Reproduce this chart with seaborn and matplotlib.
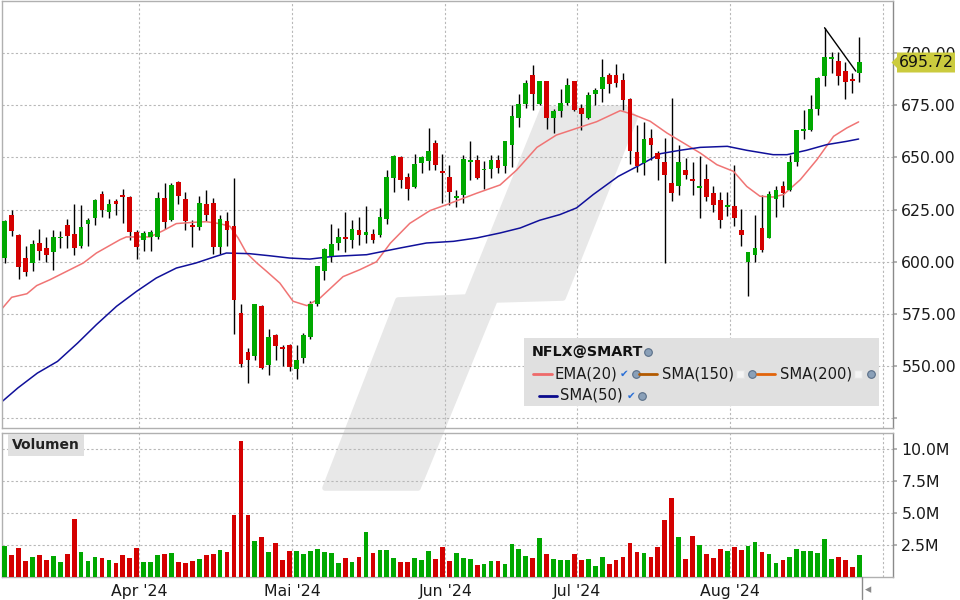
import matplotlib
matplotlib.use("Agg")
import matplotlib.pyplot as plt
import seaborn as sns
from matplotlib.patches import Polygon, Rectangle
from matplotlib.lines import Line2D

# NFLX daily candles, 1 Mar 2024 .. 27 Aug 2024
opens = [601.7, 622.6, 613.0, 602.0, 599.3, 609.2, 606.4, 604.5, 611.2, 617.8,
         613.5, 607.4, 618.3, 620.8, 632.6, 623.7, 629.0, 632.2, 630.9, 614.4,
         610.3, 611.7, 611.7, 630.7, 620.2, 638.4, 630.2, 617.5, 616.5, 627.8,
         628.3, 606.9, 619.4, 617.3, 575.3, 556.6, 555.0, 579.0, 550.7, 565.1,
         559.4, 560.3, 548.7, 553.9, 563.8, 579.6, 595.4, 602.6, 609.0, 612.0,
         610.3, 615.4, 613.0, 613.5, 612.7, 620.7, 640.3, 650.4, 640.8, 636.0,
         647.2, 648.4, 657.1, 643.6, 640.8, 630.4, 631.8, 648.0, 648.9, 643.8,
         644.6, 648.9, 646.0, 656.1, 669.0, 675.7, 689.6, 675.7, 686.7, 669.0,
         672.4, 676.2, 686.7, 673.8, 669.0, 680.5, 682.9, 689.6, 689.6, 687.2,
         678.0, 652.7, 647.5, 659.5, 652.3, 648.0, 637.9, 636.1, 644.1, 639.8,
         635.2, 639.8, 633.1, 629.8, 626.4, 626.9, 615.4, 600.1, 603.4, 616.3,
         611.6, 630.2, 636.5, 634.5, 648.0, 662.8, 663.3, 673.3, 689.1, 697.3,
         696.3, 691.5, 687.7, 690.6]
highs = [620.2, 624.6, 613.5, 607.7, 610.6, 615.9, 612.1, 615.4, 614.9, 620.7,
         627.8, 627.4, 621.1, 630.2, 634.1, 630.1, 630.2, 634.7, 631.5, 615.4,
         614.9, 615.4, 633.4, 637.9, 637.9, 638.9, 633.3, 620.2, 631.7, 634.5,
         630.7, 622.6, 624.0, 640.1, 579.6, 558.9, 579.9, 579.3, 567.8, 565.4,
         560.3, 560.6, 560.3, 565.9, 581.1, 598.1, 606.6, 618.3, 616.0, 624.0,
         620.2, 621.5, 626.9, 615.7, 625.9, 644.0, 651.0, 650.6, 642.7, 651.8,
         650.6, 664.2, 658.5, 651.5, 646.5, 634.5, 651.3, 658.0, 651.3, 648.4,
         651.3, 651.3, 658.0, 675.3, 680.5, 687.2, 694.4, 686.7, 686.7, 673.3,
         682.9, 688.2, 686.7, 675.7, 681.5, 683.4, 697.3, 690.6, 694.9, 690.6,
         678.3, 665.7, 667.1, 663.8, 653.2, 659.5, 678.6, 656.1, 649.9, 648.0,
         650.5, 647.0, 636.5, 633.6, 633.6, 646.5, 625.4, 604.9, 622.6, 632.2,
         634.1, 636.5, 638.9, 651.3, 663.3, 672.9, 680.0, 688.7, 712.1, 700.6,
         700.6, 695.8, 690.6, 707.8]
lows = [599.4, 612.5, 591.8, 593.0, 595.4, 600.7, 600.1, 595.9, 606.8, 606.8,
        603.4, 606.5, 607.7, 617.8, 621.6, 620.8, 622.6, 618.7, 610.6, 601.3,
        605.0, 605.0, 611.1, 615.7, 619.4, 627.5, 615.1, 606.9, 615.1, 619.5,
        603.6, 603.6, 607.4, 565.3, 549.8, 541.9, 553.1, 548.5, 545.6, 552.8,
        550.1, 547.9, 544.0, 551.5, 563.0, 579.0, 591.4, 599.7, 605.5, 604.7,
        606.6, 607.9, 609.0, 609.2, 611.9, 618.3, 633.6, 635.5, 629.4, 635.5,
        642.7, 644.1, 644.1, 628.2, 627.0, 626.4, 628.0, 639.2, 639.8, 635.0,
        640.3, 642.7, 642.7, 645.6, 664.7, 673.8, 672.9, 675.3, 663.8, 661.8,
        669.5, 675.3, 672.4, 663.3, 668.5, 675.3, 676.7, 681.0, 683.9, 672.9,
        647.0, 643.2, 641.7, 648.9, 639.3, 599.6, 629.0, 632.2, 639.8, 632.2,
        621.1, 629.3, 623.7, 616.3, 622.1, 617.0, 607.7, 583.5, 600.1, 604.9,
        611.4, 621.6, 626.4, 634.0, 646.0, 659.0, 662.8, 670.5, 684.4, 690.6,
        684.8, 678.1, 681.0, 686.3]
closes = [619.4, 614.6, 597.3, 595.0, 608.7, 605.0, 603.1, 612.0, 612.0, 612.2,
          606.4, 616.8, 619.9, 629.8, 624.6, 627.8, 627.8, 631.2, 614.1, 606.9,
          614.0, 614.3, 630.7, 618.9, 636.9, 631.4, 619.7, 616.5, 628.3, 622.3,
          606.9, 620.7, 615.1, 581.5, 551.2, 552.8, 579.6, 549.0, 564.0, 559.5,
          558.4, 549.5, 553.1, 565.1, 579.9, 597.8, 606.0, 608.7, 612.0, 610.9,
          615.9, 613.0, 614.4, 610.3, 621.6, 640.8, 650.8, 639.0, 635.0, 647.0,
          650.4, 653.2, 646.2, 642.4, 633.6, 631.7, 649.4, 648.8, 640.3, 644.6,
          648.9, 645.1, 658.0, 670.0, 675.7, 685.8, 680.5, 686.7, 669.0, 672.4,
          676.2, 684.8, 672.9, 670.9, 680.0, 682.4, 688.7, 685.3, 685.8, 677.6,
          653.2, 646.0, 659.0, 656.1, 649.4, 641.7, 633.1, 648.0, 641.7, 638.5,
          636.5, 631.2, 627.0, 620.2, 627.4, 621.1, 613.0, 604.9, 606.4, 605.8,
          632.6, 634.5, 633.1, 648.0, 663.3, 663.8, 673.3, 688.2, 698.2, 698.2,
          689.1, 686.3, 686.7, 695.72]
volumes = [2.45, 1.72, 2.27, 1.25, 1.56, 1.72, 1.33, 1.64, 1.17, 1.80,
           4.53, 1.95, 1.25, 1.56, 1.48, 1.33, 1.09, 1.72, 1.48, 2.27,
           1.17, 1.17, 1.72, 1.80, 1.88, 1.17, 1.09, 1.25, 1.41, 1.72,
           1.80, 2.11, 1.95, 4.84, 10.6, 4.84, 2.81, 3.13, 1.95, 2.66,
           1.33, 2.03, 2.03, 1.80, 2.03, 2.19, 1.95, 1.88, 1.09, 1.48,
           1.17, 1.56, 3.52, 1.88, 2.11, 2.11, 1.48, 1.17, 1.17, 1.48,
           1.33, 2.03, 1.41, 2.34, 1.25, 1.88, 1.48, 1.41, 0.94, 1.02,
           1.25, 1.25, 1.02, 2.58, 2.19, 1.64, 1.48, 3.05, 1.80, 1.41,
           1.33, 1.33, 1.80, 1.33, 1.41, 0.86, 1.56, 1.02, 1.33, 1.56,
           2.66, 1.95, 1.88, 1.56, 2.34, 4.45, 6.17, 3.13, 1.41, 3.20,
           2.50, 1.80, 1.48, 2.19, 2.03, 2.34, 2.11, 2.42, 2.73, 1.95,
           1.80, 1.09, 1.33, 1.56, 2.19, 2.03, 2.03, 1.88, 2.97, 1.41,
           1.56, 1.33, 0.78, 1.72]

# indicator lines, sampled from the chart (candle index, value)
ema_pos = [-0.4, 1.0, 3.2, 4.6, 6.5, 8.9, 11.3, 13.2, 16.6, 17.5, 20.9, 22.8,
           24.7, 27.1, 29.0, 30.9, 32.4, 33.6, 34.8, 36.3, 37.7, 39.6, 41.5,
           43.5, 45.4, 48.7, 51.1, 53.5, 55.5, 58.3, 61.2, 64.1, 67.9, 71.3,
           73.7, 76.6, 79.4, 82.3, 85.2, 88.6, 90.5, 92.9, 95.3, 97.7, 100.1,
           102.5, 104.9, 106.8, 108.7, 110.6, 112.1, 114.5, 116.9, 119.3,
           121.2, 122.9]
ema_vals = [577.5, 583.0, 584.7, 588.6, 591.4, 595.4, 599.4, 604.2, 610.6,
            611.9, 611.9, 614.9, 618.3, 618.9, 619.2, 618.3, 617.0, 611.4,
            604.2, 599.4, 595.4, 589.8, 581.1, 579.0, 582.7, 592.9, 596.2,
            600.0, 608.9, 618.4, 624.5, 628.0, 632.8, 636.8, 644.0, 654.8,
            660.7, 663.9, 667.1, 672.4, 670.5, 667.3, 661.7, 656.9, 652.1,
            646.5, 643.3, 636.1, 631.4, 631.0, 632.2, 639.3, 648.9, 660.1,
            664.1, 667.0]
sma_pos = [-0.4, 1.9, 4.7, 7.6, 10.5, 13.2, 16.1, 19.0, 21.8, 24.7, 27.5,
           30.4, 31.9, 35.2, 38.1, 41.0, 43.9, 47.3, 52.1, 56.9, 60.7, 64.6,
           67.9, 71.3, 74.2, 77.0, 79.9, 82.3, 84.7, 88.3, 91.5, 94.4, 97.2,
           100.1, 104.0, 106.8, 110.6, 112.6, 115.4, 118.3, 121.2, 122.9]
sma_vals = [533.0, 539.6, 546.7, 552.3, 561.1, 569.9, 578.7, 585.9, 592.2,
            597.0, 599.4, 602.6, 604.2, 603.9, 602.9, 601.8, 601.3, 602.6,
            603.4, 606.6, 609.0, 609.8, 611.4, 613.8, 616.2, 619.9, 622.6,
            625.8, 632.2, 640.9, 646.5, 651.8, 653.4, 654.8, 655.3, 653.4,
            651.3, 651.3, 653.4, 656.1, 657.7, 658.8]

trend_x = [118, 122.5]
trend_y = [712.1, 691.3]

month_start = [20, 42, 64, 83, 105, 127]
month_labels = ["Apr '24", "Mai '24", "Jun '24", "Jul '24", "Aug '24", ""]
price_ticks = [525, 550, 575, 600, 625, 650, 675, 700]
vol_ticks = [2.5, 5.0, 7.5, 10.0]
last_price = 695.72

UP, DOWN = "#00a800", "#d40000"
GRID = "#b8b8b8"
W, H = 960, 600


def fx(x):
    return x / W


def fy(y):
    return 1 - y / H


sns.set_theme(style="white")
plt.rcParams["font.family"] = ["DejaVu Sans"]

fig = plt.figure(figsize=(9.6, 6.0), dpi=100)
fig.patch.set_facecolor("white")
ax = fig.add_axes([fx(2), fy(428), 891 / W, 427 / H])
axv = fig.add_axes([fx(2), fy(577), 891 / W, 144 / H])

# watermark behind both panels
wm = [(325, 488), (398, 300), (467, 297), (543, 109), (625, 108), (635, 118),
      (563, 298), (495, 300), (418, 488)]
fig.patches.append(Polygon([(fx(a), fy(b)) for a, b in wm], closed=True,
                           transform=fig.transFigure, facecolor="#e8e8e8",
                           edgecolor="#e8e8e8", lw=4, joinstyle="round",
                           zorder=-1))

idx = list(range(len(closes)))
colors = [UP if c >= o else DOWN for o, c in zip(opens, closes)]
grid_x = [m - 0.6 for m in month_start]

for a in (ax, axv):
    a.set_facecolor("none")
    a.set_xlim(-0.39, 127.85)
    a.set_xticks(grid_x)
    a.grid(True, color=GRID, ls=(0, (2, 2)), lw=0.8)
    a.set_axisbelow(True)
    a.yaxis.tick_right()
    a.tick_params(axis="y", length=3, color="#aaaaaa", pad=3,
                  labelsize=11.3, labelcolor="#1a1a1a")
    for s in a.spines.values():
        s.set_color("#b0b0b0")
        s.set_linewidth(1)
    a.spines["right"].set_color("#8a8a8a")

# candles
ax.vlines(idx, lows, highs, color="black", lw=1, zorder=2)
ax.bar(idx, [max(abs(c - o), 0.6) for o, c in zip(opens, closes)],
       bottom=[min(o, c) for o, c in zip(opens, closes)],
       width=0.68, color=colors, lw=0, zorder=3)
sns.lineplot(x=ema_pos, y=ema_vals, ax=ax, color="#f07474", lw=1.1,
             sort=False, estimator=None, zorder=2.5)
sns.lineplot(x=sma_pos, y=sma_vals, ax=ax, color="#10109a", lw=1.1,
             sort=False, estimator=None, zorder=2.5)
ax.plot(trend_x, trend_y, color="black", lw=1, zorder=4)

ax.set_ylim(520.4, 724.9)
ax.set_yticks(price_ticks)
ax.set_yticklabels([""] + [f"{p:.2f}" for p in price_ticks[1:]])
ax.tick_params(axis="x", length=0, labelbottom=False)
ax.set_xlabel("")
ax.set_ylabel("")

# volume
axv.bar(idx, volumes, width=0.68, color=colors, lw=0, zorder=3)
axv.set_ylim(0, 11.25)
axv.set_yticks(vol_ticks)
axv.set_yticklabels([f"{v:.1f}M" for v in vol_ticks])
axv.set_xticklabels(month_labels)
axv.tick_params(axis="x", length=0, pad=5, labelsize=11.3,
                labelcolor="#1a1a1a")

fig.text(fx(12), fy(445), "Volumen", fontsize=10, fontweight="bold",
         color="#222222", va="center", ha="left", zorder=6,
         bbox=dict(boxstyle="square,pad=0.3", fc="#e0e0e0", ec="none"))

# last price tag
tag = [(891.5, 62.5), (897, 57), (897, 52.5), (955, 52.5), (955, 72.5),
       (897, 72.5), (897, 68)]
fig.patches.append(Polygon([(fx(a), fy(b)) for a, b in tag], closed=True,
                           transform=fig.transFigure, facecolor="#cbcb3e",
                           edgecolor="none", zorder=5))
fig.text(fx(926), fy(62.5), f"{last_price:.2f}", fontsize=11.3,
         color="#111111", ha="center", va="center", zorder=6)

# legend box
fig.patches.append(Rectangle((fx(524), fy(406)), 355 / W, 68 / H,
                             transform=fig.transFigure, facecolor="#e0e0e0",
                             edgecolor="none", zorder=5))
fig.text(fx(532), fy(351.5), "NFLX@SMART", fontsize=10.3, fontweight="bold",
         color="#111111", va="center", ha="left", zorder=6)


def seg(x0, x1, y, c):
    fig.lines.append(Line2D([fx(x0), fx(x1)], [fy(y), fy(y)], color=c,
                            lw=2, transform=fig.transFigure, zorder=6))


def globe(x, y):
    fig.lines.append(Line2D([fx(x)], [fy(y)], marker="o", ms=5.5,
                            mfc="#8aa0b8", mec="#5a6f88", mew=0.8,
                            transform=fig.transFigure, zorder=6))


def check(x, y, on):
    if on:
        fig.text(fx(x), fy(y), "\u2714", fontsize=7.5, color="#2a6fd6",
                 ha="center", va="center", zorder=6)
    else:
        fig.lines.append(Line2D([fx(x)], [fy(y)], marker="s", ms=6,
                                mfc="#f4f4f4", mec="#e4e4e4",
                                transform=fig.transFigure, zorder=6))


def label(x, y, s):
    fig.text(fx(x), fy(y), s, fontsize=10.6, color="#1a1a1a", va="center",
             ha="left", zorder=6)


globe(648, 352)
seg(533, 552, 374, "#ee6a6a")
label(554, 374, "EMA(20)")
check(624, 374, True)
globe(636, 374)
seg(639, 657, 374, "#b35a00")
label(662, 374, "SMA(150)")
check(740, 374, False)
globe(752, 374)
seg(757, 775, 374, "#e2640a")
label(780, 374, "SMA(200)")
check(858, 374, False)
globe(871, 374)
seg(539, 557, 395.5, "#0a0a8c")
label(560, 395.5, "SMA(50)")
check(631, 395.5, True)
globe(642, 395.5)

# scroll marker under the volume panel
fig.lines.append(Line2D([fx(862), fx(862)], [fy(577), fy(599)],
                        color="#8a8a8a", lw=1, transform=fig.transFigure))
fig.text(fx(868), fy(590), "\u25c2", fontsize=9, color="#8a8a8a",
         ha="center", va="center")

fig.savefig("out.png", dpi=100)
plt.close(fig)
